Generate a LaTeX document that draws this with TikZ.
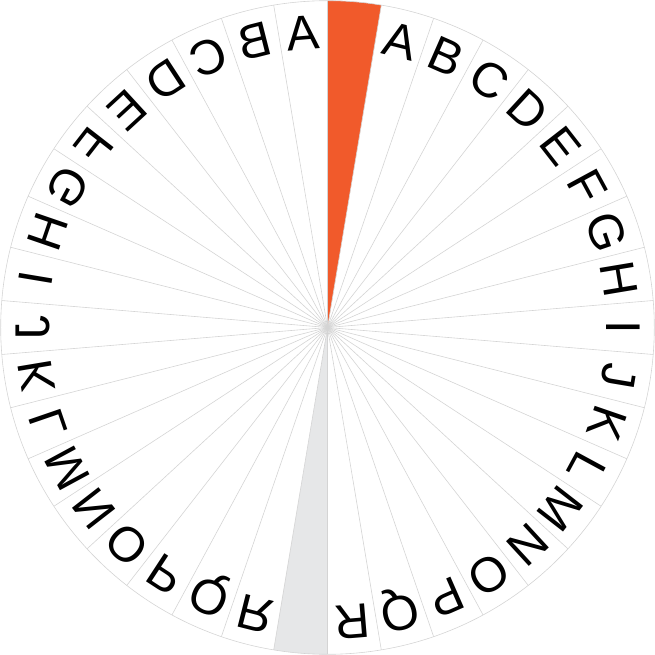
\documentclass[tikz,border=0pt]{standalone}
\usepackage{fontspec}
\setmainfont{Liberation Sans}
\definecolor{wheelorange}{HTML}{F15A2B}
\definecolor{wheelgray}{HTML}{E6E7E8}
\definecolor{raygray}{HTML}{D4D4D4}
\begin{document}
\begin{tikzpicture}[x=1bp,y=1bp,
  letter/.style={font=\fontsize{49}{49}\selectfont, inner sep=0pt, text height=35bp, text depth=0pt, anchor=center, transform shape},
  ray/.style={draw=raygray, line width=0.6bp}]
\useasboundingbox (-327.5,-327.5) rectangle (327.5,327.5);
\pgfmathsetmacro{\sa}{360/38}
\fill[wheelorange] (0,0) -- (90:326.8) arc[start angle=90, end angle={90-\sa}, radius=326.8] -- cycle;
\fill[wheelgray] (0,0) -- (-90:326.8) arc[start angle=-90, end angle={-90-\sa}, radius=326.8] -- cycle;
\foreach \k in {0,...,37} \draw[ray] (0,0) -- ({90-\k*\sa}:326.8);
\draw[ray] (0,0) circle (326.8);
\foreach \L [count=\i] in {A,...,R} {
  \pgfmathsetmacro{\th}{(\i+0.5)*\sa}
  \pgfmathsetmacro{\tl}{(\i-0.5)*\sa}
  \node[letter, rotate={-\th}] (r\i) at ({90-\th}:296) {\L};
  \begin{scope}[xscale=-1]
    \node[letter, rotate={-\tl}] (l\i) at ({90-\tl}:296) {\L};
  \end{scope}
}
\end{tikzpicture}
\end{document}
